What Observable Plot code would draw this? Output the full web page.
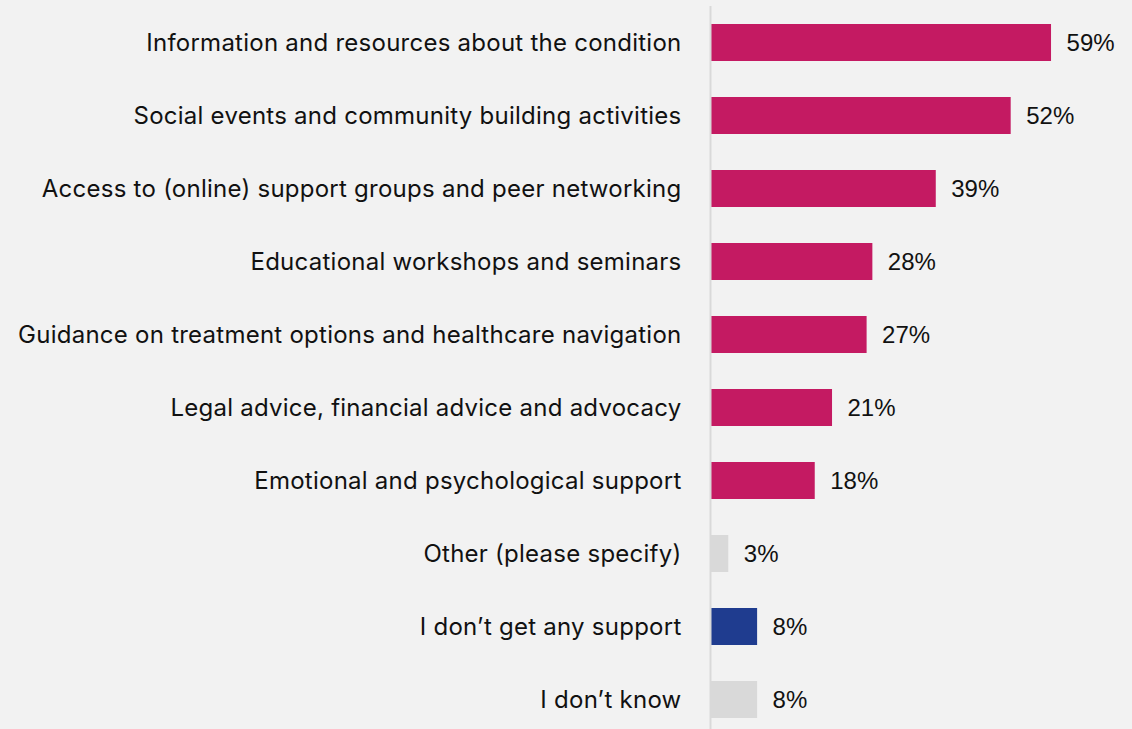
<!DOCTYPE html>
<html>
<head>
<meta charset="utf-8">
<script src="https://cdn.jsdelivr.net/npm/d3@7"></script>
<script src="https://cdn.jsdelivr.net/npm/@observablehq/plot@0.6"></script>
<style>
  html, body { margin: 0; padding: 0; background: #f2f2f2; }
  #chart svg { display: block; background: #f2f2f2; }
  #chart svg g[aria-label="y-axis tick label"] text { letter-spacing: 0.25px; }
</style>
</head>
<body>
<div id="chart"></div>
<script>
const categories = [
  "Information and resources about the condition",
  "Social events and community building activities",
  "Access to (online) support groups and peer networking",
  "Educational workshops and seminars",
  "Guidance on treatment options and healthcare navigation",
  "Legal advice, financial advice and advocacy",
  "Emotional and psychological support",
  "Other (please specify)",
  "I don\u2019t get any support",
  "I don\u2019t know"
];
const values = [59, 52, 39, 28, 27, 21, 18, 3, 8, 8];
const groups = ["support", "support", "support", "support", "support", "support", "support", "other", "none", "other"];
const groupNames = ["support", "other", "none"];
const groupColors = ["#c41a62", "#d9d9d9", "#1f3c8f"];

const data = categories.map((c, i) => ({category: c, value: values[i], group: groups[i]}));

const chart = Plot.plot({
  width: 1132,
  height: 729,
  marginLeft: 711,
  marginRight: 0,
  marginTop: 6,
  marginBottom: 0,
  style: {background: "#f2f2f2"},
  x: {domain: [0, 73.05], axis: null},
  y: {domain: categories, range: [-11.8, 755], padding: 0.49, axis: null},
  color: {domain: groupNames, range: groupColors},
  marks: [
    Plot.barX(data, {y: "category", x: "value", fill: "group"}),
    Plot.ruleX([0], {stroke: "#d9d9d9", strokeWidth: 2, dx: -1}),
    Plot.axisY({
      tickSize: 0,
      tickPadding: 30,
      fontSize: 24,
      fontFamily: "Inter",
      fill: "#111",
      textAnchor: "end",
      label: null
    }),
    Plot.text(data, {
      y: "category",
      x: "value",
      text: d => d.value + "%",
      textAnchor: "start",
      dx: 15,
      fontSize: 24,
      fontFamily: "Liberation Sans",
      fill: "#111"
    })
  ]
});
document.getElementById("chart").appendChild(chart);
</script>
</body>
</html>
